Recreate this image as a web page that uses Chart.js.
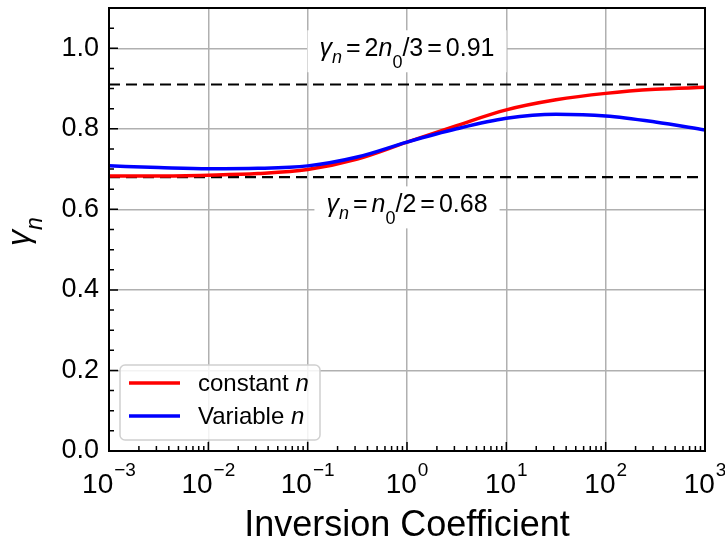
<!DOCTYPE html>
<html lang="en">
<head>
    <meta charset="UTF-8">
    <title>Gamma n vs Inversion Coefficient</title>
    <script src="https://cdn.jsdelivr.net/npm/chart.js"></script>
    <style>
        html, body { margin: 0; padding: 0; background: #fff; }
    </style>
</head>
<body>
    <canvas id="gammaChart" width="725" height="548"></canvas>

    <script>
        // values
        const icValues = [0.001, 0.00316, 0.01, 0.0316, 0.1, 0.316, 1, 3.16, 10, 31.6, 100, 316, 1000];
        const constantN = [0.683, 0.683, 0.685, 0.689, 0.699, 0.725, 0.767, 0.808, 0.847, 0.872, 0.888, 0.898, 0.903];
        const variableN = [0.708, 0.704, 0.701, 0.702, 0.708, 0.730, 0.767, 0.800, 0.826, 0.836, 0.832, 0.817, 0.797];
        const upperLimit = 0.91;   // 2 n0 / 3
        const lowerLimit = 0.68;   // n0 / 2

        const xDecades = [1e-3, 1e-2, 1e-1, 1, 10, 100, 1000];
        const xExponents = ['\u22123', '\u22122', '\u22121', '0', '1', '2', '3'];
        const yTickValues = [0, 0.2, 0.4, 0.6, 0.8, 1.0];

        const FONT = "'Liberation Sans', Arial, sans-serif";

        function segFont(seg, size) {
            const s = seg.sub || seg.sup ? size * 0.72 : size;
            return (seg.it ? 'italic ' : '') + s + 'px ' + FONT;
        }

        function richWidth(ctx, segs, size) {
            let w = 0;
            segs.forEach(seg => {
                ctx.font = segFont(seg, size);
                w += (seg.pre || 0) + ctx.measureText(seg.t).width + (seg.gap || 0);
            });
            return w;
        }

        // draws text pieces left to right from x on baseline y
        function richText(ctx, segs, x, y, size) {
            ctx.textBaseline = 'alphabetic';
            ctx.textAlign = 'left';
            segs.forEach(seg => {
                ctx.font = segFont(seg, size);
                x += (seg.pre || 0);
                ctx.fillText(seg.t, x, y + (seg.dy || 0) * size);
                x += ctx.measureText(seg.t).width + (seg.gap || 0);
            });
        }

        const upperLabel = [
            {t: '\u03b3', it: true},
            {t: 'n', it: true, sub: true, dy: 0.25},
            {t: '=', pre: 4, gap: 4},
            {t: '2'},
            {t: 'n', it: true},
            {t: '0', sub: true, dy: 0.45},
            {t: '/3'},
            {t: '=', pre: 4, gap: 4},
            {t: '0.91'}
        ];
        const lowerLabel = [
            {t: '\u03b3', it: true},
            {t: 'n', it: true, sub: true, dy: 0.25},
            {t: '=', pre: 4, gap: 4},
            {t: 'n', it: true},
            {t: '0', sub: true, dy: 0.45},
            {t: '/2'},
            {t: '=', pre: 4, gap: 4},
            {t: '0.68'}
        ];

        const decor = {
            id: 'decor',
            afterDatasetsDraw(chart) {
                const ctx = chart.ctx;
                const xs = chart.scales.x, ys = chart.scales.y;
                const xc = xs.getPixelForValue(1);

                // annotation boxes (text baseline given)
                const notes = [
                    {segs: upperLabel, y: ys.getPixelForValue(1.0) + 8},
                    {segs: lowerLabel, y: ys.getPixelForValue(0.6) + 3}
                ];
                notes.forEach(n => {
                    const size = 25;
                    const w = richWidth(ctx, n.segs, size);
                    ctx.fillStyle = '#fff';
                    ctx.fillRect(xc - w / 2 - 12, n.y - 26, w + 24, 42);
                    ctx.fillStyle = '#000';
                    richText(ctx, n.segs, xc - w / 2, n.y, size);
                });

                // legend
                const lx = 120, ly = 365, lw = 200, lh = 75;
                ctx.save();
                ctx.beginPath();
                ctx.roundRect(lx, ly, lw, lh, 5);
                ctx.fillStyle = 'rgba(255,255,255,0.85)';
                ctx.fill();
                ctx.strokeStyle = '#d0d0d0';
                ctx.lineWidth = 1.5;
                ctx.stroke();
                ctx.restore();
                const entries = [
                    {ds: chart.data.datasets[1], segs: [{t: 'constant '}, {t: 'n', it: true}]},
                    {ds: chart.data.datasets[0], segs: [{t: 'Variable '}, {t: 'n', it: true}]}
                ];
                entries.forEach((e, i) => {
                    const y = 383 + i * 33;
                    ctx.strokeStyle = e.ds.borderColor;
                    ctx.lineWidth = 3.5;
                    ctx.beginPath();
                    ctx.moveTo(129, y);
                    ctx.lineTo(180, y);
                    ctx.stroke();
                    ctx.fillStyle = '#000';
                    richText(ctx, e.segs, 198, y + 8, 24);
                });
            },
            afterDraw(chart) {
                const ctx = chart.ctx;
                const a = chart.chartArea;
                const xs = chart.scales.x, ys = chart.scales.y;
                ctx.save();

                // inward ticks
                ctx.strokeStyle = '#000';
                ctx.lineWidth = 1.5;
                ctx.beginPath();
                xDecades.forEach(d => {
                    const px = xs.getPixelForValue(d);
                    ctx.moveTo(px, a.bottom);
                    ctx.lineTo(px, a.bottom - 9);
                    if (d < 1000) {
                        for (let k = 2; k <= 9; k++) {
                            const mx = xs.getPixelForValue(d * k);
                            ctx.moveTo(mx, a.bottom);
                            ctx.lineTo(mx, a.bottom - 5);
                        }
                    }
                });
                for (let i = 0; i <= 22; i++) {
                    const py = ys.getPixelForValue(i * 0.05);
                    const major = i % 4 === 0 && i <= 20;
                    ctx.moveTo(a.left, py);
                    ctx.lineTo(a.left + (major ? 9 : 5), py);
                }
                ctx.stroke();

                // frame
                ctx.lineWidth = 2;
                ctx.strokeRect(a.left, a.top, a.right - a.left, a.bottom - a.top);

                // x tick labels 10^k
                ctx.fillStyle = '#000';
                xDecades.forEach((d, i) => {
                    const px = xs.getPixelForValue(d);
                    ctx.font = '28px ' + FONT;
                    const wb = ctx.measureText('10').width;
                    ctx.font = '19px ' + FONT;
                    const we = ctx.measureText(xExponents[i]).width;
                    const x0 = px - (wb + we + 1) / 2;
                    ctx.textAlign = 'left';
                    ctx.textBaseline = 'alphabetic';
                    ctx.font = '28px ' + FONT;
                    ctx.fillText('10', x0, 493);
                    ctx.font = '19px ' + FONT;
                    ctx.fillText(xExponents[i], x0 + wb + 1, 476);
                });

                // y axis label gamma_n, rotated
                ctx.translate(29, (a.top + a.bottom) / 2 + 2);
                ctx.rotate(-Math.PI / 2);
                const ylab = [{t: '\u03b3', it: true}, {t: 'n', it: true, sub: true, dy: 0.4}];
                const wy = richWidth(ctx, ylab, 32);
                richText(ctx, ylab, -wy / 2, 0, 32);
                ctx.restore();
            }
        };

        const ctx = document.getElementById('gammaChart').getContext('2d');
        new Chart(ctx, {
            type: 'line',
            data: {
                datasets: [
                    {
                        label: 'Variable n',
                        data: icValues.map((x, i) => ({x: x, y: variableN[i]})),
                        borderColor: '#0000ff',
                        borderWidth: 3.5,
                        pointRadius: 0,
                        cubicInterpolationMode: 'monotone',
                        order: 0
                    },
                    {
                        label: 'constant n',
                        data: icValues.map((x, i) => ({x: x, y: constantN[i]})),
                        borderColor: '#ff0000',
                        borderWidth: 3.5,
                        pointRadius: 0,
                        cubicInterpolationMode: 'monotone',
                        order: 1
                    },
                    {
                        label: 'upper',
                        data: [{x: 1e-3, y: upperLimit}, {x: 1e3, y: upperLimit}],
                        borderColor: '#000',
                        borderWidth: 2.2,
                        borderDash: [11, 6],
                        pointRadius: 0,
                        order: 2
                    },
                    {
                        label: 'lower',
                        data: [{x: 1e-3, y: lowerLimit}, {x: 1e3, y: lowerLimit}],
                        borderColor: '#000',
                        borderWidth: 2.2,
                        borderDash: [11, 6],
                        pointRadius: 0,
                        order: 2
                    }
                ]
            },
            options: {
                responsive: false,
                animation: false,
                layout: { padding: { top: 8, right: 20, left: 0, bottom: 0 } },
                plugins: { legend: { display: false }, tooltip: { enabled: false } },
                scales: {
                    x: {
                        type: 'logarithmic',
                        min: 1e-3,
                        max: 1e3,
                        afterBuildTicks: s => { s.ticks = xDecades.map(v => ({value: v})); },
                        afterFit: s => { s.height = 97; },
                        grid: { color: '#b0b0b0', lineWidth: 1.5, drawTicks: false },
                        border: { display: false },
                        ticks: { display: false },
                        title: {
                            display: true,
                            text: 'Inversion Coefficient',
                            color: '#000',
                            font: { family: FONT, size: 36 },
                            padding: { top: 0, bottom: 0 }
                        }
                    },
                    y: {
                        min: 0,
                        max: 1.1,
                        afterBuildTicks: s => { s.ticks = yTickValues.map(v => ({value: v})); },
                        afterFit: s => { s.width = 109; s.paddingTop = 0; s.paddingBottom = 0; },
                        grid: { color: '#b0b0b0', lineWidth: 1.5, drawTicks: false },
                        border: { display: false },
                        ticks: {
                            color: '#000',
                            font: { family: FONT, size: 27 },
                            padding: 10,
                            callback: v => v.toFixed(1)
                        }
                    }
                }
            },
            plugins: [decor]
        });
    </script>
</body>
</html>
